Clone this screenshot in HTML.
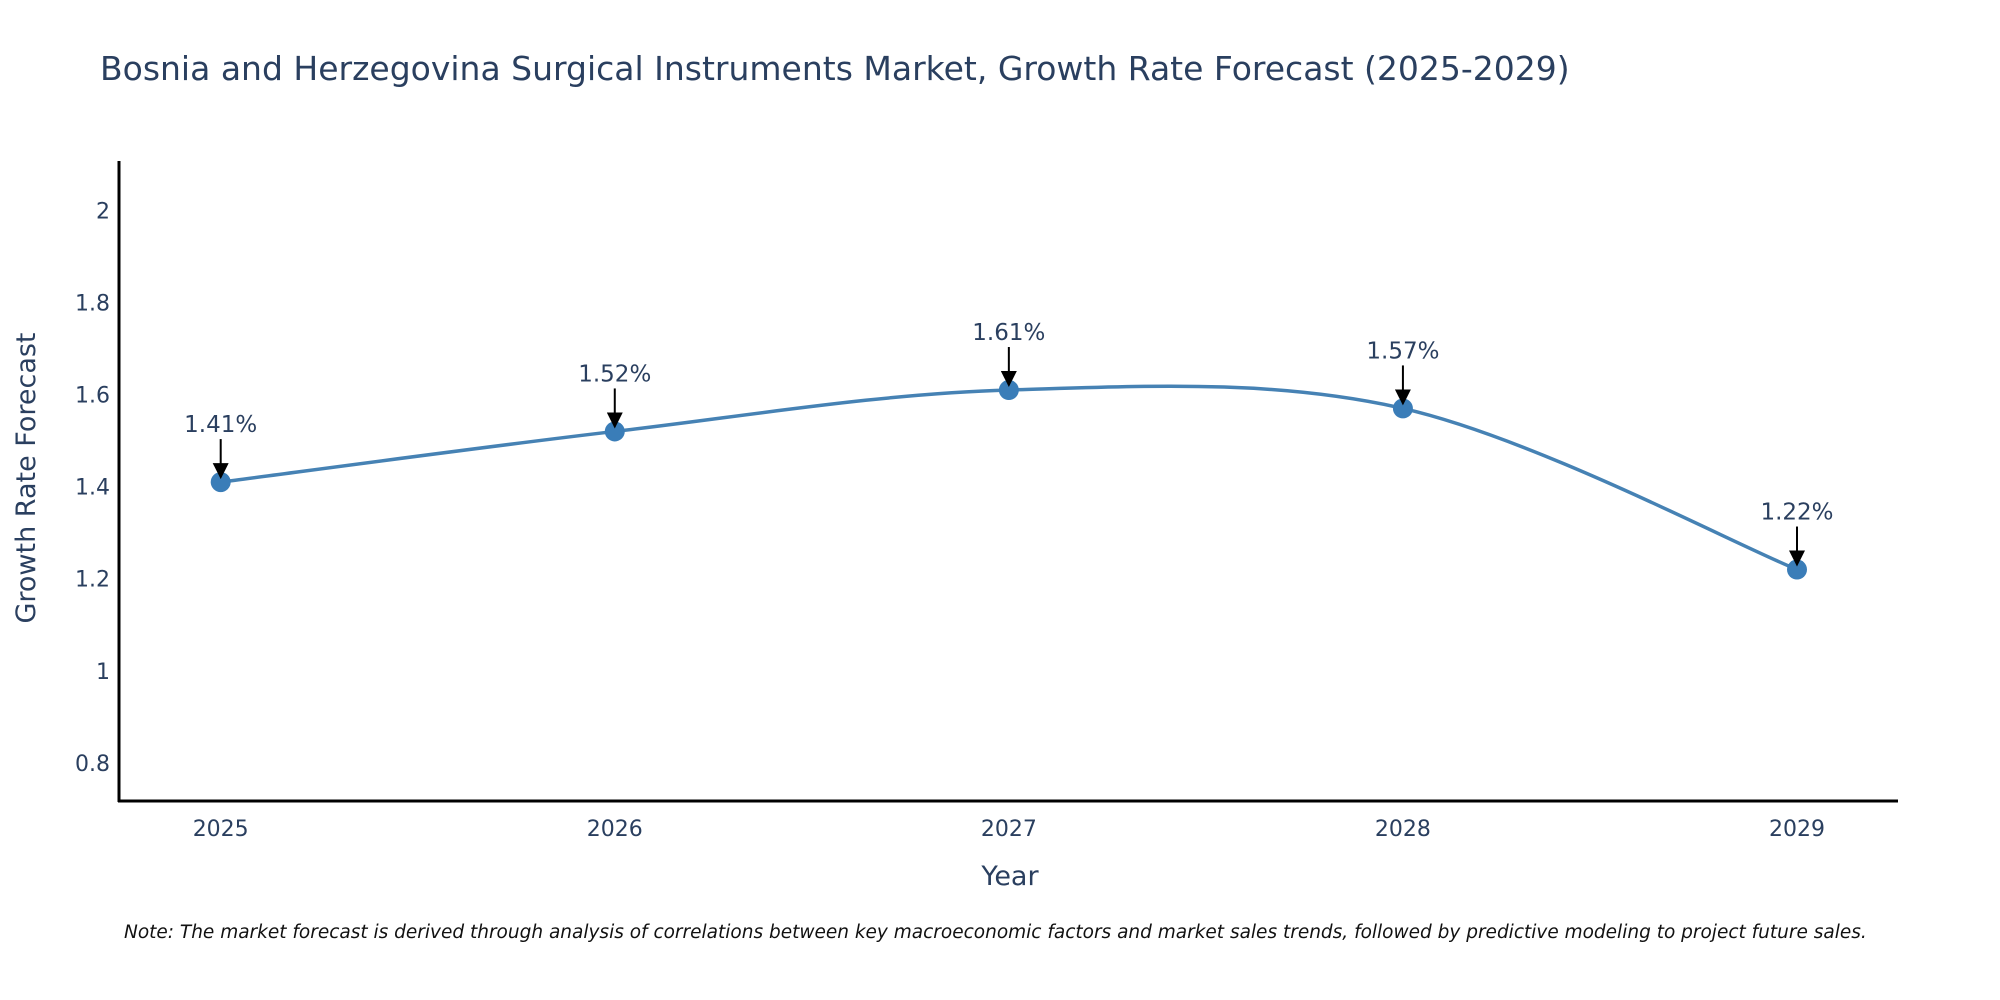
<!DOCTYPE html>
<html><head><meta charset="utf-8">
<style>
html,body{margin:0;padding:0;background:#fff;}
svg{display:block;font-family:"DejaVu Sans","Liberation Sans",sans-serif;}
</style></head>
<body>
<svg id="chart" width="2000" height="1000" viewBox="0 0 2000 1000" xmlns="http://www.w3.org/2000/svg">
  <text x="100" y="80" font-size="33" fill="#2a3f5f">Bosnia and Herzegovina Surgical Instruments Market, Growth Rate Forecast (2025-2029)</text>
  <g id="yticks"></g>
  <g id="xticks"></g>
  <line x1="119" y1="161" x2="119" y2="802" stroke="#000" stroke-width="3"/>
  <line x1="118" y1="801" x2="1898" y2="801" stroke="#000" stroke-width="3"/>
  <path id="line" fill="none" stroke="#4682b4" stroke-width="3.5"/>
  <g id="points"></g>
  <g id="annots"></g>
  <text transform="translate(35,478) rotate(-90)" text-anchor="middle" font-size="27" fill="#2a3f5f">Growth Rate Forecast</text>
  <text x="1010" y="885" text-anchor="middle" font-size="27" fill="#2a3f5f">Year</text>
  <text x="124" y="938" font-size="18.5" font-style="italic" fill="#111">Note: The market forecast is derived through analysis of correlations between key macroeconomic factors and market sales trends, followed by predictive modeling to project future sales.</text>
  <defs><marker id="ah" markerWidth="8" markerHeight="8" refX="7" refY="4" orient="auto" markerUnits="strokeWidth"><path d="M0,0 L8,4 L0,8 Z" fill="#000"/></marker></defs>
</svg>
<script>
const years = [2025, 2026, 2027, 2028, 2029];
const growth = [1.41, 1.52, 1.61, 1.57, 1.22];
const labels = ["1.41%", "1.52%", "1.61%", "1.57%", "1.22%"];
const yTicks = [0.8, 1, 1.2, 1.4, 1.6, 1.8, 2];
const yTickLabels = ["0.8", "1", "1.2", "1.4", "1.6", "1.8", "2"];

const NS = "http://www.w3.org/2000/svg";
function xs(v){ return 220.7 + (v - 2025) * (1797 - 220.7) / 4; }
function ys(v){ return 210.5 + (2 - v) * 460.3; }
function mk(tag, attrs, parent){ const e = document.createElementNS(NS, tag); for (const k in attrs) e.setAttribute(k, attrs[k]); parent.appendChild(e); return e; }

const yg = document.getElementById('yticks');
yTicks.forEach((t, i) => {
  const e = mk('text', {x: 110, y: ys(t) + 8, 'text-anchor': 'end', 'font-size': 22, fill: '#2a3f5f'}, yg);
  
  
  e.textContent = yTickLabels[i];
});
const xg = document.getElementById('xticks');
years.forEach(yr => {
  const e = mk('text', {x: xs(yr), y: 836, 'text-anchor': 'middle', 'font-size': 22, fill: '#2a3f5f'}, xg);
  
  
  e.textContent = String(yr);
});

const pts = years.map((y, i) => [xs(y), ys(growth[i])]);
let d = `M${pts[0][0]},${pts[0][1]}`;
const tns = 0.5;
for (let i = 0; i < pts.length - 1; i++) {
  const p0 = pts[Math.max(0, i - 1)], p1 = pts[i], p2 = pts[i + 1], p3 = pts[Math.min(pts.length - 1, i + 2)];
  const c1 = [p1[0] + (p2[0] - p0[0]) * tns / 3, p1[1] + (p2[1] - p0[1]) * tns / 3];
  const c2 = [p2[0] - (p3[0] - p1[0]) * tns / 3, p2[1] - (p3[1] - p1[1]) * tns / 3];
  d += ` C${c1[0]},${c1[1]} ${c2[0]},${c2[1]} ${p2[0]},${p2[1]}`;
}
document.getElementById('line').setAttribute('d', d);

const pg = document.getElementById('points');
const ag = document.getElementById('annots');
pts.forEach((p, i) => {
  const c = mk('circle', {cx: p[0], cy: p[1], r: 10, fill: '#3a7db8'}, pg);
  
  
  const a = mk('line', {x1: p[0], y1: p[1] - 43, x2: p[0], y2: p[1] - 5, stroke: '#000', 'stroke-width': 2, 'marker-end': 'url(#ah)'}, ag);
  
  
  const t = mk('text', {x: p[0], y: p[1] - 50, 'text-anchor': 'middle', 'font-size': 23, fill: '#2a3f5f'}, ag);
  
  
  t.textContent = labels[i];
});
</script>
</body></html>
